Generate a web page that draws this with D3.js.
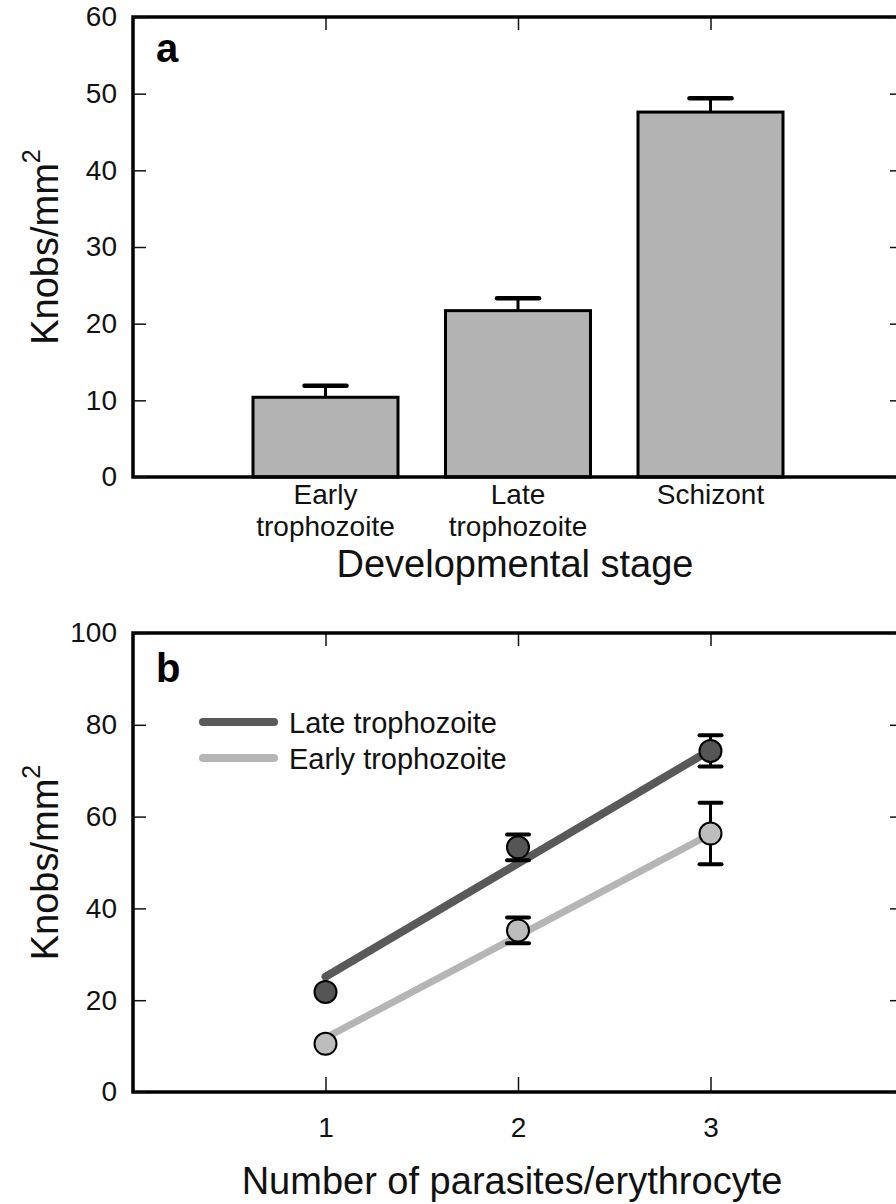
<!DOCTYPE html>
<html lang="en">
<head>
    <meta charset="UTF-8">
    <title>Knobs per mm2</title>
    <script src="https://d3js.org/d3.v7.min.js"></script>
    <style>
        body { margin: 0; background: #fff; }
        svg { display: block; font-family: "Liberation Sans", Arial, Helvetica, sans-serif; }
        .tick line { stroke: #111; stroke-width: 1.5; }
        .domain { display: none; }
    </style>
</head>
<body>
<div id="chart"></div>
<script>
// panel a
const stages = ["Early trophozoite", "Late trophozoite", "Schizont"];
const stageKnobs = [10.4, 21.7, 47.6];
const stageErr = [1.5, 1.6, 1.8];
const yTicksA = [0, 10, 20, 30, 40, 50, 60];

// panel b
const parasites = [1, 2, 3];
const lateKnobs = [21.8, 53.3, 74.3];
const lateErr = [0, 2.8, 3.4];
const earlyKnobs = [10.5, 35.2, 56.3];
const earlyErr = [0, 2.8, 6.7];
const lateFit = [25.1, 74.5];
const earlyFit = [11.8, 56.2];
const yTicksB = [0, 20, 40, 60, 80, 100];

const W = 896, H = 1204;
const left = 133, right = 903;
const FONT = '"Liberation Sans", Arial, Helvetica, sans-serif';

const svg = d3.select("#chart").append("svg")
    .attr("width", W).attr("height", H);

function styleAxis(g) {
    g.attr("font-family", FONT).attr("font-size", 28);
    g.selectAll(".tick text").attr("fill", "#111");
}

function frame(y) {
    svg.append("rect")
        .attr("x", left).attr("y", y.range()[1])
        .attr("width", right - left)
        .attr("height", y.range()[0] - y.range()[1])
        .attr("fill", "none").attr("stroke", "#000").attr("stroke-width", 3.5);
}

function yAxes(y, ticks) {
    svg.append("g")
        .attr("transform", `translate(${left},0)`)
        .call(d3.axisLeft(y).tickValues(ticks).tickSize(-13).tickPadding(16))
        .call(styleAxis);
    svg.append("g")
        .attr("transform", `translate(${right},0)`)
        .call(d3.axisRight(y).tickValues(ticks).tickSize(-13).tickFormat(""));
}

function yTitle(cy) {
    const t = svg.append("text")
        .attr("transform", `translate(58,${cy}) rotate(-90)`)
        .attr("text-anchor", "middle")
        .attr("font-size", 38)
        .attr("fill", "#111");
    t.append("tspan").text("Knobs/mm");
    t.append("tspan").attr("dy", -18).attr("font-size", 25).text("2");
}

// ---------- panel a ----------
const xA = d3.scalePoint().domain(stages).range([left, right]).padding(1);
const yA = d3.scaleLinear().domain([0, 60]).range([477, 17]);
const barW = 145;

svg.append("g")
    .attr("transform", `translate(0,${yA(60)})`)
    .call(d3.axisTop(xA).tickSize(-13).tickFormat(""));

svg.append("g").selectAll("line.err")
    .data(stages)
    .join("line")
    .attr("x1", d => xA(d)).attr("x2", d => xA(d))
    .attr("y1", (d, i) => yA(stageKnobs[i]))
    .attr("y2", (d, i) => yA(stageKnobs[i] + stageErr[i]))
    .attr("stroke", "#000").attr("stroke-width", 3);

svg.append("g").selectAll("line.cap")
    .data(stages)
    .join("line")
    .attr("x1", d => xA(d) - 21).attr("x2", d => xA(d) + 21)
    .attr("y1", (d, i) => yA(stageKnobs[i] + stageErr[i]))
    .attr("y2", (d, i) => yA(stageKnobs[i] + stageErr[i]))
    .attr("stroke", "#000").attr("stroke-width", 4.5).attr("stroke-linecap", "round");

svg.append("g").selectAll("rect")
    .data(stages)
    .join("rect")
    .attr("x", d => xA(d) - barW / 2)
    .attr("y", (d, i) => yA(stageKnobs[i]))
    .attr("width", barW)
    .attr("height", (d, i) => yA(0) - yA(stageKnobs[i]))
    .attr("fill", "#b3b3b3").attr("stroke", "#000").attr("stroke-width", 3);

frame(yA);
yAxes(yA, yTicksA);

svg.append("g").selectAll("text.cat")
    .data(stages)
    .join("text")
    .attr("text-anchor", "middle")
    .attr("font-size", 28)
    .attr("fill", "#111")
    .each(function (d) {
        const words = d.split(" ");
        d3.select(this).selectAll("tspan")
            .data(words)
            .join("tspan")
            .attr("x", xA(d))
            .attr("y", (w, j) => 504 + j * 32)
            .text(w => w);
    });

svg.append("text")
    .attr("x", 515).attr("y", 577)
    .attr("text-anchor", "middle").attr("font-size", 38).attr("fill", "#111")
    .text("Developmental stage");

svg.append("text")
    .attr("x", 156).attr("y", 62)
    .attr("font-size", 40).attr("font-weight", "bold")
    .text("a");

yTitle((yA(0) + yA(60)) / 2);

// ---------- panel b ----------
const xB = d3.scaleLinear().domain([0, 4]).range([left, right]);
const yB = d3.scaleLinear().domain([0, 100]).range([1092, 633]);

svg.append("g")
    .attr("transform", `translate(0,${yB(100)})`)
    .call(d3.axisTop(xB).tickValues(parasites).tickSize(-13).tickFormat(""));
svg.append("g")
    .attr("transform", `translate(0,${yB(0)})`)
    .call(d3.axisBottom(xB).tickValues(parasites).tickFormat(d3.format("d")).tickSize(-15).tickPadding(25))
    .call(styleAxis);

frame(yB);
yAxes(yB, yTicksB);

const series = [
    { vals: earlyKnobs, err: earlyErr, fit: earlyFit, line: "#b5b5b5", fill: "#bdbdbd", w: 7 },
    { vals: lateKnobs, err: lateErr, fit: lateFit, line: "#595959", fill: "#555555", w: 8 }
];

series.forEach(s => {
    svg.append("line")
        .attr("x1", xB(1)).attr("x2", xB(3))
        .attr("y1", yB(s.fit[0])).attr("y2", yB(s.fit[1]))
        .attr("stroke", s.line).attr("stroke-width", s.w).attr("stroke-linecap", "round");
});

series.forEach(s => {
    const g = svg.append("g");
    const pts = parasites.map((p, i) => ({ p, v: s.vals[i], e: s.err[i] }));
    const withErr = pts.filter(d => d.e > 0);
    g.selectAll("line.v")
        .data(withErr)
        .join("line")
        .attr("x1", d => xB(d.p)).attr("x2", d => xB(d.p))
        .attr("y1", d => yB(d.v - d.e))
        .attr("y2", d => yB(d.v + d.e))
        .attr("stroke", "#000").attr("stroke-width", 3);
    [-1, 1].forEach(sign => {
        g.selectAll(null)
            .data(withErr)
            .join("line")
            .attr("x1", d => xB(d.p) - 11).attr("x2", d => xB(d.p) + 11)
            .attr("y1", d => yB(d.v + sign * d.e))
            .attr("y2", d => yB(d.v + sign * d.e))
            .attr("stroke", "#000").attr("stroke-width", 4).attr("stroke-linecap", "round");
    });
    g.selectAll("circle")
        .data(pts)
        .join("circle")
        .attr("cx", d => xB(d.p))
        .attr("cy", d => yB(d.v))
        .attr("r", 11)
        .attr("fill", s.fill).attr("stroke", "#000").attr("stroke-width", 2);
});

// legend
const legend = [
    { name: "Late trophozoite", color: "#595959", y: 722 },
    { name: "Early trophozoite", color: "#b5b5b5", y: 758 }
];
const lg = svg.append("g");
lg.selectAll("line")
    .data(legend)
    .join("line")
    .attr("x1", 203).attr("x2", 274)
    .attr("y1", d => d.y).attr("y2", d => d.y)
    .attr("stroke", d => d.color).attr("stroke-width", 8).attr("stroke-linecap", "round");
lg.selectAll("text")
    .data(legend)
    .join("text")
    .attr("x", 289).attr("y", d => d.y + 11)
    .attr("font-size", 29).attr("fill", "#111")
    .text(d => d.name);

svg.append("text")
    .attr("x", 156).attr("y", 682)
    .attr("font-size", 40).attr("font-weight", "bold")
    .text("b");

svg.append("text")
    .attr("x", 512).attr("y", 1194)
    .attr("text-anchor", "middle").attr("font-size", 38).attr("fill", "#111")
    .text("Number of parasites/erythrocyte");

yTitle((yB(0) + yB(100)) / 2);
</script>
</body>
</html>
